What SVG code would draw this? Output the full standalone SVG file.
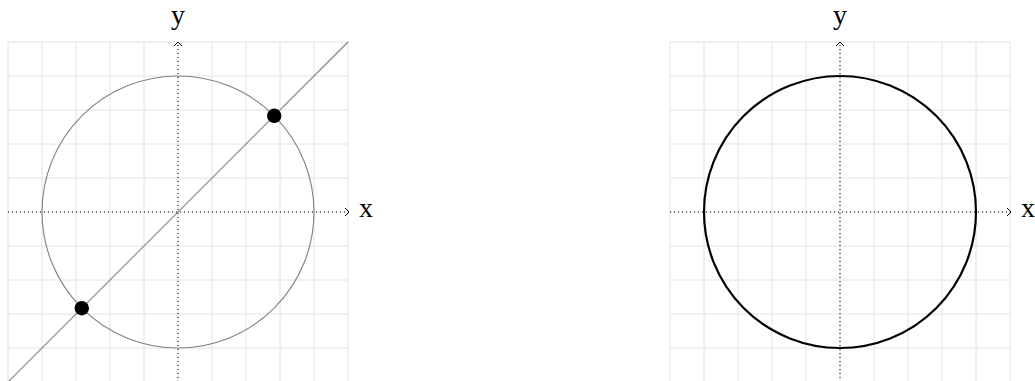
<svg xmlns="http://www.w3.org/2000/svg" width="1035" height="381" viewBox="0 0 1035 381">
<defs>
<style>
.grid{stroke:#e2e2e2;stroke-width:1;fill:none}
.axis{stroke:#000;stroke-width:1;stroke-dasharray:1 3;fill:none}
.head{stroke:#000;stroke-width:1;fill:none}
.lbl{font-family:"Liberation Serif","DejaVu Serif",serif;font-size:28px;fill:#000}
.thin{stroke:#808080;stroke-width:1.1;fill:none}
.thick{stroke:#000;stroke-width:2.2;fill:none}
</style>
</defs>
<g id="left-panel">
<g id="left-grid">
<path class="grid" d="M8 42V382M42 42V382M76 42V382M110 42V382M144 42V382M178 42V382M212 42V382M246 42V382M280 42V382M314 42V382M348 42V382M8 42H348M8 76H348M8 110H348M8 144H348M8 178H348M8 212H348M8 246H348M8 280H348M8 314H348M8 348H348"/>
</g>
<g id="left-axes">
<path class="axis" d="M8 212H348"/>
<path class="axis" d="M178 382V44"/>
<path class="head" d="M345 208L349 212L345 216"/>
<path class="head" d="M174 46L178 42L182 46"/>
<text class="lbl" x="359" y="217">x</text>
<text class="lbl" x="178" y="24" text-anchor="middle">y</text>
</g>
<g id="left-circle"><circle class="thin" cx="178" cy="212" r="136"/></g>
<g id="left-line"><path class="thin" d="M8 382L348 42"/></g>
<g id="dot1"><circle cx="274.2" cy="115.8" r="7.2" fill="#000"/></g>
<g id="dot2"><circle cx="81.8" cy="308.2" r="7.2" fill="#000"/></g>
</g>
<g id="right-panel">
<g id="right-grid">
<path class="grid" d="M670 42V382M704 42V382M738 42V382M772 42V382M806 42V382M840 42V382M874 42V382M908 42V382M942 42V382M976 42V382M1010 42V382M670 42H1010M670 76H1010M670 110H1010M670 144H1010M670 178H1010M670 212H1010M670 246H1010M670 280H1010M670 314H1010M670 348H1010"/>
</g>
<g id="right-axes">
<path class="axis" d="M670 212H1010"/>
<path class="axis" d="M840 382V44"/>
<path class="head" d="M1007 208L1011 212L1007 216"/>
<path class="head" d="M836 46L840 42L844 46"/>
<text class="lbl" x="1021" y="217">x</text>
<text class="lbl" x="840" y="24" text-anchor="middle">y</text>
</g>
<g id="right-circle"><circle class="thick" cx="840" cy="212" r="136"/></g>
</g>
</svg>
